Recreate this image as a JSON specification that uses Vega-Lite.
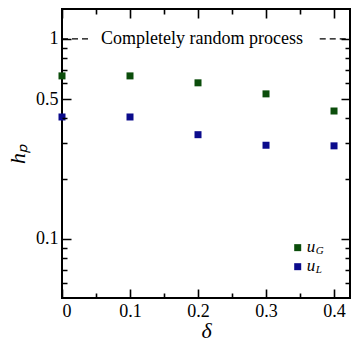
{
  "$schema": "https://vega.github.io/schema/vega-lite/v6.json",
  "autosize": {"type": "none"},
  "width": 288,
  "height": 289,
  "padding": {"left": 62, "top": 9, "right": 7, "bottom": 51},
  "background": "white",
  "config": {
    "view": {"stroke": "black", "strokeWidth": 2},
    "font": "Liberation Serif",
    "axis": {
      "ticks": true, "tickOpacity": 1, "domain": false,
      "tickColor": "black", "tickWidth": 1.6, "tickDash": [1, 0], "tickOffset": 0, "tickCap": "butt",
      "labelFont": "Liberation Serif", "labelFontSize": 18, "labelColor": "black",
      "titleFont": "Liberation Serif", "titleFontStyle": "italic", "titleFontWeight": "normal", "titleColor": "black",
      "grid": false
    }
  },
  "datasets": {
    "pts": [
      {"delta": 0.0, "hp": 0.653, "series": "uG"},
      {"delta": 0.1, "hp": 0.653, "series": "uG"},
      {"delta": 0.2, "hp": 0.603, "series": "uG"},
      {"delta": 0.3, "hp": 0.531, "series": "uG"},
      {"delta": 0.4, "hp": 0.436, "series": "uG"},
      {"delta": 0.0, "hp": 0.407, "series": "uL"},
      {"delta": 0.1, "hp": 0.407, "series": "uL"},
      {"delta": 0.2, "hp": 0.332, "series": "uL"},
      {"delta": 0.3, "hp": 0.294, "series": "uL"},
      {"delta": 0.4, "hp": 0.292, "series": "uL"}
    ],
    "ref": [
      {"x": 0.0, "x2": 0.044, "y": 1},
      {"x": 0.379, "x2": 0.4235, "y": 1}
    ],
    "note": [{"x": 0.206, "y": 1, "label": "Completely random process"}],
    "leg": [
      {"x": 0.3466, "y": 0.0905, "series": "uG", "sub": "G"},
      {"x": 0.3466, "y": 0.0727, "series": "uL", "sub": "L"}
    ]
  },
  "layer": [
    {
      "data": {"name": "pts"},
      "mark": {"type": "point", "shape": "square", "filled": true, "size": 49, "opacity": 1, "strokeWidth": 0},
      "encoding": {
        "x": {
          "field": "delta", "type": "quantitative",
          "scale": {"domain": [0, 0.4235], "nice": false, "zero": false},
          "axis": {
            "orient": "bottom", "title": "δ", "titleFontSize": 22, "titlePadding": 0,
            "values": [0, 0.1, 0.2, 0.3, 0.4],
            "labelExpr": "datum.value == 0 ? '0' : format(datum.value, '.1f')",
            "ticks": true, "offset": -9, "tickSize": 9, "labelPadding": 4,
            "tickColor": "black", "tickWidth": 1.6, "tickOpacity": 1, "tickDash": [1, 0], "tickOffset": 0, "zindex": 1
          }
        },
        "y": {
          "field": "hp", "type": "quantitative",
          "scale": {"type": "log", "domain": [0.0507, 1.41], "nice": false},
          "axis": {
            "orient": "left", "title": "hₚ", "titleFontSize": 22, "titlePadding": 6,
            "values": [0.1, 0.5, 1],
            "labelExpr": "datum.value == 1 ? '1' : (datum.value == 0.5 ? '0.5' : '0.1')",
            "ticks": true, "offset": -9, "tickSize": 9, "labelPadding": 4,
            "tickColor": "black", "tickWidth": 1.6, "tickOpacity": 1, "tickDash": [1, 0], "tickOffset": 0, "zindex": 1
          }
        },
        "color": {
          "field": "series", "type": "nominal",
          "scale": {"domain": ["uG", "uL"], "range": ["#0b4d0b", "#0b0b8c"]},
          "legend": null
        }
      }
    },
    {
      "data": {"name": "ref"},
      "mark": {"type": "rule", "color": "black", "strokeWidth": 1.2, "strokeDash": [6, 4]},
      "encoding": {
        "x": {
          "field": "x", "type": "quantitative",
          "axis": {
            "orient": "top", "title": null, "labels": false, "ticks": true,
            "values": [0, 0.1, 0.2, 0.3, 0.4], "offset": -9, "tickSize": 9,
            "tickColor": "black", "tickWidth": 1.6, "tickOpacity": 1, "tickDash": [1, 0], "tickOffset": 0, "zindex": 1
          }
        },
        "x2": {"field": "x2"},
        "y": {
          "field": "y", "type": "quantitative",
          "axis": {
            "orient": "right", "title": null, "labels": false, "ticks": true,
            "values": [0.1, 0.5, 1], "offset": -9, "tickSize": 9,
            "tickColor": "black", "tickWidth": 1.6, "tickOpacity": 1, "tickDash": [1, 0], "tickOffset": 0, "zindex": 1
          }
        }
      }
    },
    {
      "data": {"name": "note"},
      "mark": {"type": "text", "font": "Liberation Serif", "fontSize": 18, "align": "center", "baseline": "middle", "color": "black"},
      "encoding": {
        "x": {
          "field": "x", "type": "quantitative",
          "axis": {
            "orient": "bottom", "title": null, "labels": false, "ticks": true,
            "values": [0.05, 0.15, 0.25, 0.35], "offset": -5, "tickSize": 5,
            "tickColor": "black", "tickWidth": 1.6, "tickOpacity": 1, "tickDash": [1, 0], "tickOffset": 0, "zindex": 1
          }
        },
        "y": {
          "field": "y", "type": "quantitative",
          "axis": {
            "orient": "left", "title": null, "labels": false, "ticks": true,
            "values": [0.06, 0.07, 0.08, 0.09, 0.2, 0.3, 0.4, 0.6, 0.7, 0.8, 0.9], "offset": -5, "tickSize": 5,
            "tickColor": "black", "tickWidth": 1.6, "tickOpacity": 1, "tickDash": [1, 0], "tickOffset": 0, "zindex": 1
          }
        },
        "text": {"field": "label"}
      }
    },
    {
      "data": {"name": "leg"},
      "mark": {"type": "point", "shape": "square", "filled": true, "size": 49, "opacity": 1, "strokeWidth": 0},
      "encoding": {
        "x": {
          "field": "x", "type": "quantitative",
          "axis": {
            "orient": "top", "title": null, "labels": false, "ticks": true,
            "values": [0.05, 0.15, 0.25, 0.35], "offset": -5, "tickSize": 5,
            "tickColor": "black", "tickWidth": 1.6, "tickOpacity": 1, "tickDash": [1, 0], "tickOffset": 0, "zindex": 1
          }
        },
        "y": {
          "field": "y", "type": "quantitative",
          "axis": {
            "orient": "right", "title": null, "labels": false, "ticks": true,
            "values": [0.06, 0.07, 0.08, 0.09, 0.2, 0.3, 0.4, 0.6, 0.7, 0.8, 0.9], "offset": -5, "tickSize": 5,
            "tickColor": "black", "tickWidth": 1.6, "tickOpacity": 1, "tickDash": [1, 0], "tickOffset": 0, "zindex": 1
          }
        },
        "color": {"field": "series", "type": "nominal", "legend": null}
      }
    },
    {
      "data": {"name": "leg"},
      "mark": {"type": "text", "font": "Liberation Serif", "fontStyle": "italic", "fontSize": 17, "align": "left", "baseline": "middle", "dx": 9, "dy": -1, "color": "black"},
      "encoding": {
        "x": {"field": "x", "type": "quantitative", "axis": null},
        "y": {"field": "y", "type": "quantitative", "axis": null},
        "text": {"value": "u"}
      }
    },
    {
      "data": {"name": "leg"},
      "mark": {"type": "text", "font": "Liberation Serif", "fontStyle": "italic", "fontSize": 11, "align": "left", "baseline": "middle", "dx": 18, "dy": 3, "color": "black"},
      "encoding": {
        "x": {"field": "x", "type": "quantitative", "axis": null},
        "y": {"field": "y", "type": "quantitative", "axis": null},
        "text": {"field": "sub"}
      }
    }
  ],
  "resolve": {"axis": {"x": "independent", "y": "independent"}}
}
